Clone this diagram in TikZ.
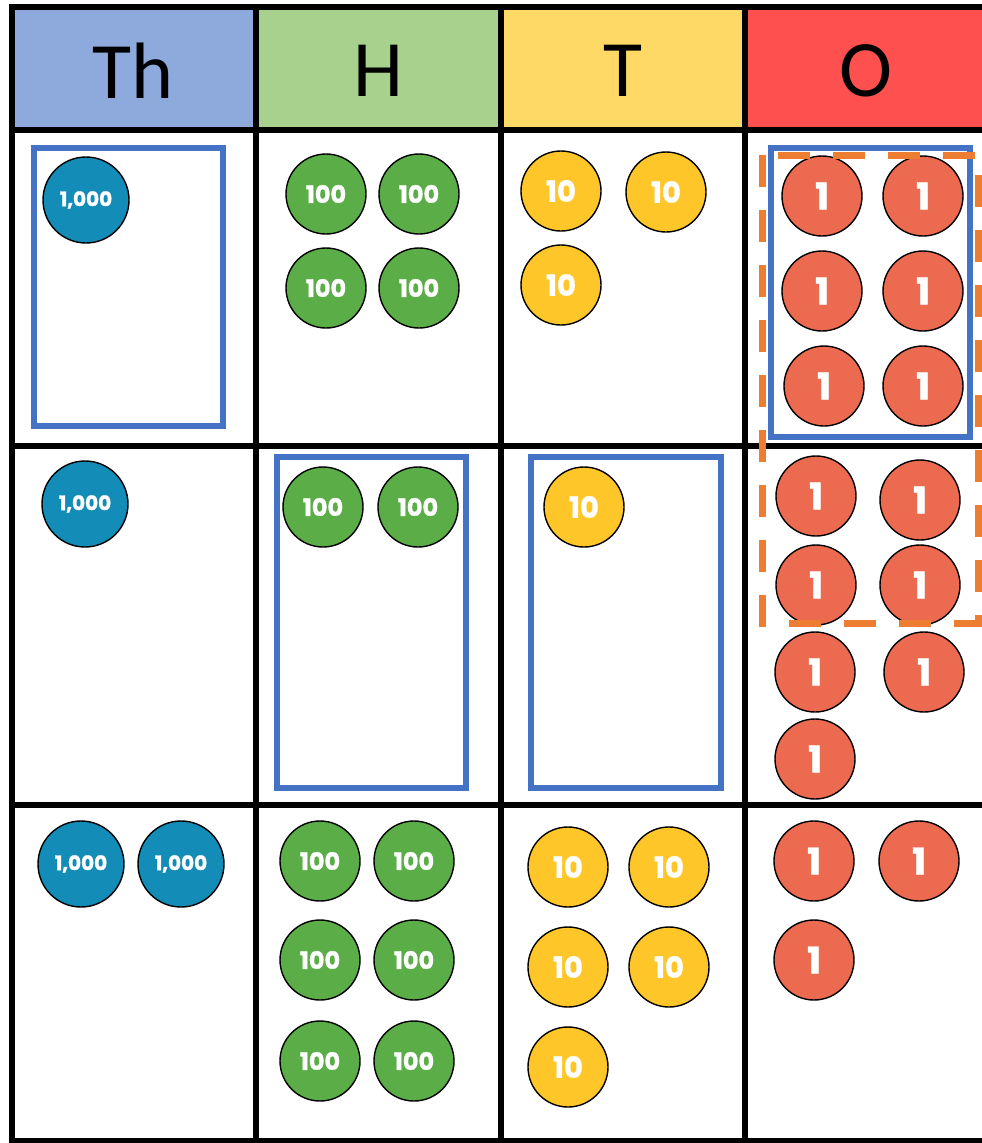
\documentclass[tikz,border=0pt]{standalone}
\usepackage{fontspec}
\newfontfamily\headfont{Carlito}
\newfontfamily\coinfont{Poppins}[BoldFeatures={FakeBold=1.2}]
\definecolor{thhead}{HTML}{8EA9DB}
\definecolor{hhead}{HTML}{A9D18E}
\definecolor{thead}{HTML}{FFD966}
\definecolor{ohead}{HTML}{FF5050}
\definecolor{thcoin}{HTML}{138DB8}
\definecolor{hcoin}{HTML}{5BAE47}
\definecolor{tcoin}{HTML}{FFC629}
\definecolor{ocoin}{HTML}{EC6A50}
\definecolor{boxblue}{HTML}{4472C4}
\definecolor{boxorange}{HTML}{ED7D31}
\tikzset{
  gridline/.style={line width=5.5pt, line cap=rect, black},
  headtext/.style={font=\headfont\fontsize{80}{80}\selectfont, inner sep=0pt, text=black},
  coin/.style={circle, draw=black, line width=1.4pt, inner sep=0pt, text=white},
  thou/.style={coin, fill=thcoin, minimum size=86pt, font=\coinfont\bfseries\fontsize{20}{20}\selectfont},
  hund/.style={coin, fill=hcoin, minimum size=80pt, font=\coinfont\bfseries\fontsize{24}{24}\selectfont},
  tens/.style={coin, fill=tcoin, minimum size=80pt, font=\coinfont\bfseries\fontsize{29}{29}\selectfont},
  ones/.style={coin, fill=ocoin, minimum size=80pt, font=\coinfont\bfseries\fontsize{37}{37}\selectfont},
  bluebox/.style={draw=boxblue, line width=5.3pt},
  orangebox/.style={draw=boxorange, line width=7pt, dash pattern=on 32pt off 23pt},
}
\begin{document}
\begin{tikzpicture}[x=1pt, y=-1pt]
\useasboundingbox (0,0) rectangle (982,1143);
\clip (0,0) rectangle (982,1143);
% header fills
\fill[thhead] (12,7) rectangle (256,130);
\fill[hhead] (256,7) rectangle (501,130);
\fill[thead] (501,7) rectangle (745,130);
\fill[ohead] (745,7) rectangle (995,130);
\node[headtext] (hTh) at (133,71) {Th};
\node[headtext] (hH) at (378.5,71) {H};
\node[headtext] (hT) at (623,71) {T};
\node[headtext] (hO) at (866,71) {O};
% grid
\foreach \yy in {7,130,446,805,1141} \draw[gridline] (12,\yy) -- (1000,\yy);
\foreach \xx in {12,256,501,745} \draw[gridline] (\xx,7) -- (\xx,1141);
% blue boxes
\draw[bluebox] (34,148) rectangle (223,426);
\draw[bluebox] (771,148) rectangle (970,437);
\draw[bluebox] (277,457) rectangle (466,788);
\draw[bluebox] (531,457) rectangle (721,788);
% row 1
\node[thou] (a1) at (86,200) {1,000};
\foreach \p [count=\i] in {{326,194},{419,194},{326,288},{419,288}}
  \node[hund] (ah\i) at (\p) {100};
\foreach \p [count=\i] in {{561,191},{666,192},{561,285}}
  \node[tens] (at\i) at (\p) {10};
\foreach \p [count=\i] in {{822,196},{923,196},{822,291},{923,291},{824,386},{923,386}}
  \node[ones] (ao\i) at (\p) {1};
% row 2
\node[thou] (b1) at (85,504) {1,000};
\foreach \p [count=\i] in {{323,507},{418,507}}
  \node[hund] (bh\i) at (\p) {100};
\node[tens] (bt1) at (584,507) {10};
\foreach \p [count=\i] in {{816,496},{920,500},{816,585},{920,585},{815,672},{924,672},{815,759}}
  \node[ones] (bo\i) at (\p) {1};
% row 3
\foreach \p [count=\i] in {{81,864},{181,864}}
  \node[thou] (c\i) at (\p) {1,000};
\foreach \p [count=\i] in {{320,861},{414,861},{320,960},{414,960},{320,1061},{414,1061}}
  \node[hund] (ch\i) at (\p) {100};
\foreach \p [count=\i] in {{568,867},{669,867},{568,967},{669,967},{568,1067}}
  \node[tens] (ct\i) at (\p) {10};
\foreach \p [count=\i] in {{814,861},{919,861},{814,960}}
  \node[ones] (co\i) at (\p) {1};
% orange dashed group
\draw[orangebox] (762,155) -- (762,623) -- (978,623) -- (978,155) -- cycle;
\end{tikzpicture}
\end{document}
